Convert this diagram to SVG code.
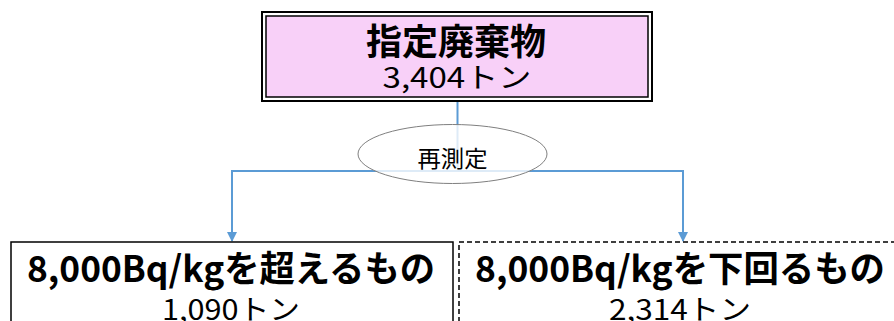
<svg xmlns="http://www.w3.org/2000/svg" width="894" height="321" viewBox="0 0 894 321">
  <defs>
    <marker id="arr" markerWidth="10" markerHeight="10" refX="9" refY="5" orient="auto" markerUnits="userSpaceOnUse">
      <path d="M0,0 L10,5 L0,10 Z" fill="#5b9bd5"/>
    </marker>
    <style>
      .t { font-family: "Noto Sans CJK JP", "Noto Sans", sans-serif; fill: #000; text-anchor: middle; }
      .b { font-weight: bold; }
      .conn { fill: none; stroke: #5b9bd5; stroke-width: 2; }
    </style>
  </defs>
  <rect width="894" height="321" fill="#fff"/>

  <g id="connectors">
    <line class="conn" x1="457.5" y1="101" x2="457.5" y2="171"/>
    <polyline class="conn" points="232,241 232,171 683,171 683,241"/>
    <line class="conn" x1="232" y1="220" x2="232" y2="241" marker-end="url(#arr)"/>
    <line class="conn" x1="683" y1="220" x2="683" y2="241" marker-end="url(#arr)"/>
  </g>

  <g id="node-top">
    <rect x="262" y="12" width="390" height="89" fill="#fff" stroke="#000" stroke-width="2"/>
    <rect x="266" y="16" width="382" height="81" fill="#f8d0f8" stroke="#000" stroke-width="1.5"/>
    <text class="t b" x="456" y="55" font-size="36" textLength="180" lengthAdjust="spacingAndGlyphs">指定廃棄物</text>
    <text class="t" x="457" y="88" font-size="28" textLength="149" lengthAdjust="spacingAndGlyphs">3,404トン</text>
  </g>

  <g id="node-remeasure">
    <ellipse cx="452.5" cy="154" rx="94.5" ry="29.5" fill="#fff" fill-opacity="0.8" stroke="#7f7f7f" stroke-width="1"/>
    <text class="t" x="452.5" y="167" font-size="23" textLength="70" lengthAdjust="spacingAndGlyphs">再測定</text>
  </g>

  <g id="node-over">
    <rect x="11" y="242" width="442" height="110" fill="none" stroke="#000" stroke-width="1.5"/>
    <text class="t b" x="231" y="282" font-size="36" textLength="408" lengthAdjust="spacingAndGlyphs">8,000Bq/kgを超えるもの</text>
    <text class="t" x="231" y="320" font-size="28" textLength="138" lengthAdjust="spacingAndGlyphs">1,090トン</text>
  </g>

  <g id="node-under">
    <rect x="459" y="242" width="450" height="110" fill="none" stroke="#000" stroke-width="1.5" stroke-dasharray="5,3"/>
    <text class="t b" x="680" y="282" font-size="36" textLength="410" lengthAdjust="spacingAndGlyphs">8,000Bq/kgを下回るもの</text>
    <text class="t" x="680" y="320" font-size="28" textLength="142" lengthAdjust="spacingAndGlyphs">2,314トン</text>
  </g>
</svg>
